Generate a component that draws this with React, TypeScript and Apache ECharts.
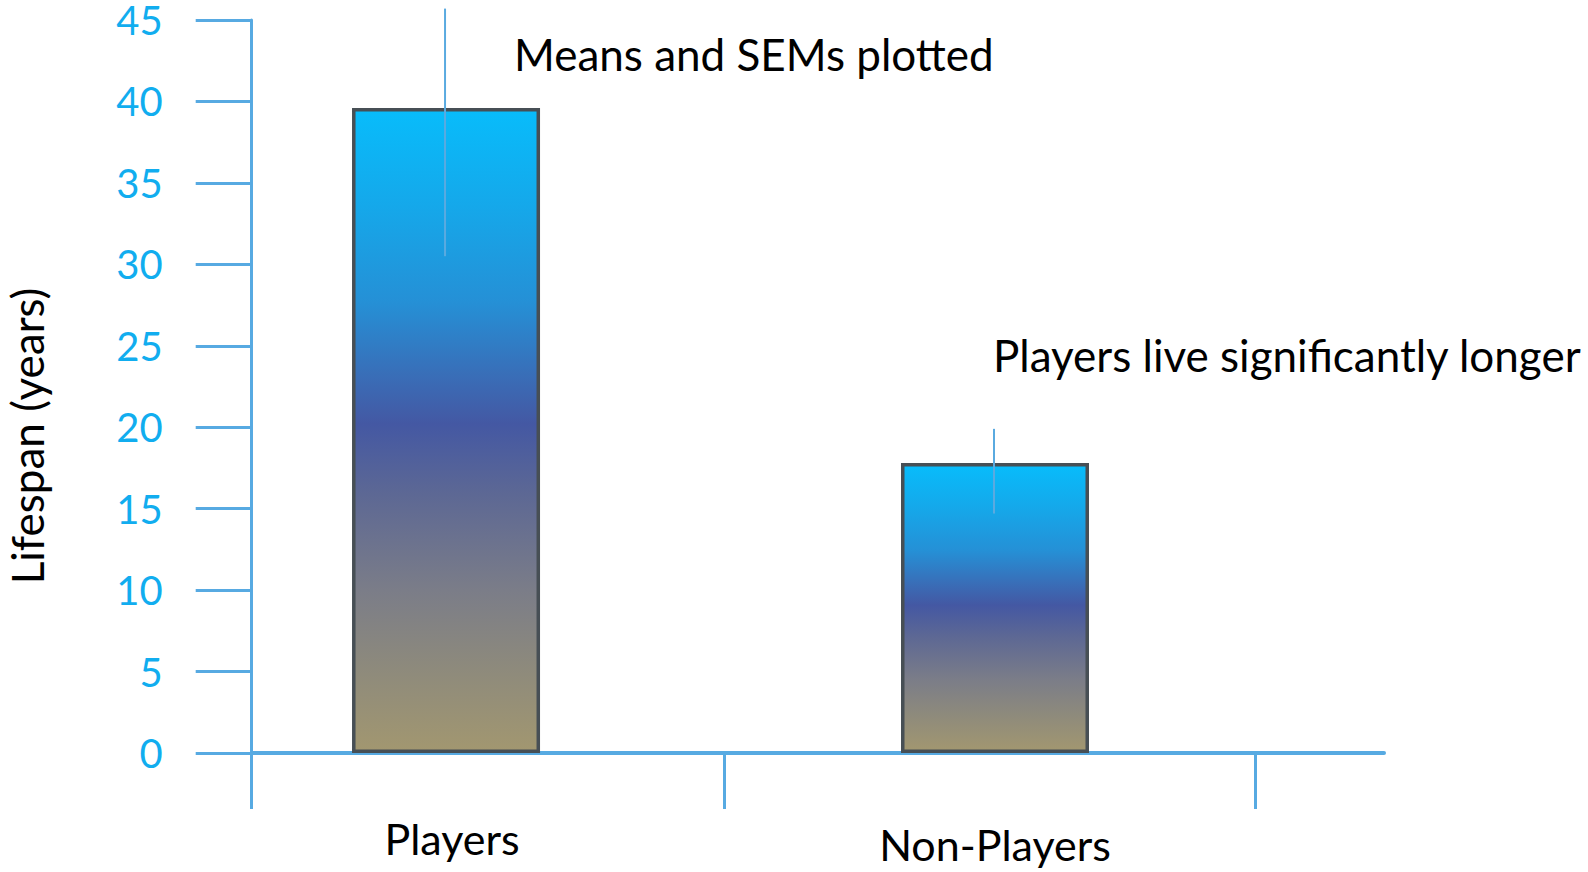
import React, { useEffect, useRef } from "react";
import * as echarts from "echarts";

const categories = ["Players", "Non-Players"];
const meanLifespan = [39.6, 17.8];
const errLow = [30.5, 14.7];
const errHigh = [45.7, 19.9];
const yTicks = [0, 5, 10, 15, 20, 25, 30, 35, 40, 45];
const notes = ["Means and SEMs plotted", "Players live significantly longer"];

const AXIS_BLUE = "#57aae2";
const FONT = "Lato, 'Open Sans', sans-serif";

export default function App() {
  const ref = useRef<HTMLDivElement>(null);
  useEffect(() => {
    if (!ref.current) return;
    const chart = echarts.init(ref.current, null, { renderer: "svg" });
    const barGrad = new echarts.graphic.LinearGradient(0, 0, 0, 1, [
      { offset: 0, color: "#08bcfb" },
      { offset: 0.15, color: "#15a8ea" },
      { offset: 0.3, color: "#2590d6" },
      { offset: 0.42, color: "#3a6cb6" },
      { offset: 0.49, color: "#4458a3" },
      { offset: 0.6, color: "#5d6894" },
      { offset: 0.75, color: "#7b7d88" },
      { offset: 0.88, color: "#8f8b7b" },
      { offset: 1, color: "#a29770" },
    ]);
    chart.setOption({
      animation: false,
      backgroundColor: "#ffffff",
      grid: { left: 251.7, right: 204, top: 18, bottom: 119, containLabel: false },
      xAxis: {
        type: "value",
        min: -0.354,
        max: 1.7086,
        splitLine: { show: false },
        axisLine: { show: true, onZero: false, lineStyle: { color: AXIS_BLUE, width: 4 } },
        axisTick: {
          show: true,
          customValues: [-0.354, 0.506, 1.4736],
          length: 56,
          lineStyle: { color: AXIS_BLUE, width: 3 },
        },
        axisLabel: {
          customValues: categories.map((_, i) => i),
          formatter: (v: number) => {
            const i = Math.round(v);
            return i === 0 ? `{a|${categories[i]}}` : `{b|${categories[i]}}`;
          },
          margin: 64,
          rich: {
            a: { fontFamily: FONT, fontSize: 43, color: "#000", padding: [0, 0, 0, 12] },
            b: { fontFamily: FONT, fontSize: 43, color: "#000", padding: [6, 0, 0, 0] },
          },
        },
      },
      yAxis: {
        type: "value",
        min: yTicks[0],
        max: yTicks[yTicks.length - 1],
        interval: yTicks[1] - yTicks[0],
        splitLine: { show: false },
        axisLine: { show: true, onZero: false, lineStyle: { color: AXIS_BLUE, width: 3 } },
        axisTick: { show: true, length: 56, lineStyle: { color: AXIS_BLUE, width: 3 } },
        axisLabel: { color: "#11adef", fontFamily: FONT, fontSize: 40, lineHeight: 32, margin: 89 },
      },
      series: [
        {
          type: "bar",
          data: meanLifespan.map((v, i) => [i, v]),
          barWidth: 188,
          itemStyle: { color: barGrad, borderColor: "#474f55", borderWidth: 3.5 },
          z: 2,
        },
        {
          type: "custom",
          data: categories.map((_, i) => [i, errLow[i], errHigh[i]]),
          z: 5,
          renderItem: (params: any, api: any) => {
            const lo = api.coord([api.value(0), api.value(1)]);
            const hi = api.coord([api.value(0), api.value(2)]);
            return {
              type: "line",
              shape: { x1: lo[0] - 1, y1: lo[1], x2: hi[0] - 1, y2: hi[1] },
              style: { stroke: "#5aaae0", lineWidth: 2 },
            };
          },
        },
      ],
      graphic: [
        {
          type: "text",
          x: 27,
          y: 436,
          rotation: Math.PI / 2,
          style: {
            text: "Lifespan (years)",
            fontFamily: FONT,
            fontSize: 44,
            fill: "#000",
            align: "center",
            verticalAlign: "middle",
          },
        },
        {
          type: "text",
          x: 514,
          y: 54,
          style: { text: notes[0], fontFamily: FONT, fontSize: 44, fill: "#000", align: "left", verticalAlign: "middle" },
        },
        {
          type: "text",
          x: 993,
          y: 355,
          style: { text: notes[1], fontFamily: FONT, fontSize: 44, fill: "#000", align: "left", verticalAlign: "middle" },
        },
      ],
    });
    return () => chart.dispose();
  }, []);
  return (
    <div
      ref={ref}
      style={{ position: "fixed", left: 0, top: 0, width: 1588, height: 872, background: "#fff" }}
    />
  );
}
